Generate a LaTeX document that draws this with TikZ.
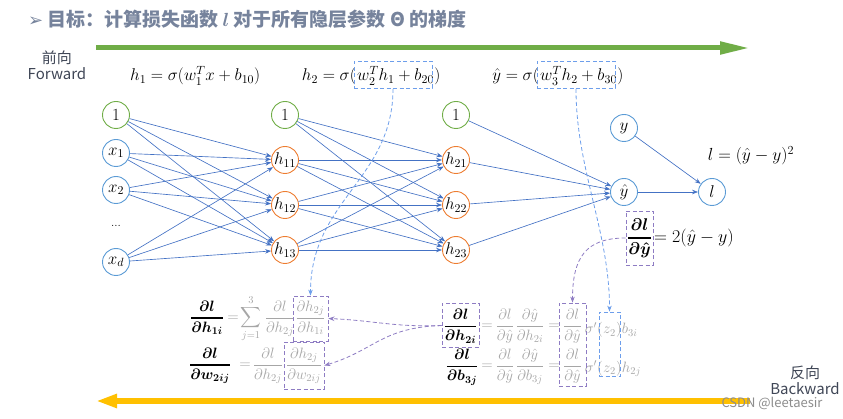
\RequirePackage{fix-cm}
\documentclass[tikz,border=0pt]{standalone}
\usepackage{amsmath}
\usepackage{fontspec}
\newfontfamily\cjk{Noto Sans CJK SC}
\newfontfamily\dejavu{DejaVu Sans}
\usetikzlibrary{arrows.meta}
\definecolor{ngreen}{HTML}{70AD47}
\definecolor{nblue}{HTML}{5B9BD5}
\definecolor{norange}{HTML}{ED7D31}
\definecolor{edgec}{HTML}{4472C4}
\definecolor{dblue}{HTML}{6D9EEB}
\definecolor{dpurp}{HTML}{8E7CC3}
\definecolor{gtxt}{HTML}{A6A6A6}
\definecolor{ttl}{HTML}{76839C}
\definecolor{lbl}{HTML}{3F4656}
\definecolor{ayellow}{HTML}{FFC000}
\definecolor{wm}{HTML}{8C8C8C}
\newcommand{\lhsfrac}[2]{\genfrac{}{}{1.2pt}{0}{\boldsymbol{#1}}{\boldsymbol{#2}}}
\begin{document}
\begin{tikzpicture}[x=1pt,y=-1pt,
  neuron/.style={circle, draw, line width=0.9pt, minimum size=27pt, inner sep=0pt, font=\fontsize{17}{19}\selectfont},
  bias/.style={neuron, draw=ngreen},
  inp/.style={neuron, draw=nblue},
  hid/.style={neuron, draw=norange},
  conn/.style={draw=edgec, line width=0.65pt, -{Stealth[length=6pt,width=4.5pt]}},
  bdash/.style={draw=dblue, line width=0.8pt, dash pattern=on 4pt off 2.5pt},
  pdash/.style={draw=dpurp, line width=0.8pt, dash pattern=on 4pt off 2.5pt},
  bbox/.style={rectangle, bdash, inner sep=0pt},
  pbox/.style={rectangle, pdash, inner sep=0pt},
  piece/.style={inner sep=0pt, anchor=base, font=\fontsize{15}{17}\selectfont},
  gp/.style={piece, text=gtxt},
  bp/.style={piece, text=black},
  topeq/.style={inner sep=0pt, anchor=base west, font=\fontsize{17}{19}\selectfont},
  lbltxt/.style={inner sep=0pt, align=center, text=lbl, font=\cjk\fontsize{15}{16}\selectfont},
  tip/.style={-{Stealth[length=6pt,width=4.5pt]}}
]
\useasboundingbox (0,0) rectangle (843,419);

% title
\node[anchor=west, inner sep=0pt, text=ttl, font=\fontsize{19}{21}\selectfont] (title) at (28,19)
  {{\dejavu\fontsize{18}{20}\selectfont ➢}\hspace{4pt}{\cjk\bfseries 目标：计算损失函数 $\boldsymbol{l}$ 对于所有隐层参数 Θ 的梯度}};

% big arrows
\coordinate (gs) at (96,48); \coordinate (ge) at (750,48);
\draw[draw=ngreen, line width=5pt, -{Triangle[length=30pt,width=12pt]}] (gs) -- (ge);
\coordinate (ys) at (750,401); \coordinate (ye) at (96,401);
\draw[draw=ayellow, line width=6pt, -{Triangle[length=21pt,width=13pt]}] (ys) -- (ye);

\node[lbltxt] (fwd) at (57,65) {前向\\Forward};
\node[lbltxt] (bwd) at (805,380) {反向\\Backward};
\node[inner sep=0pt, text=wm, font=\cjk\fontsize{13}{14}\selectfont] (wmk) at (772,403) {CSDN @leetaesir};

% top equations
\node[topeq] (E1) at (130,81) {$h_1=\sigma(w_1^T x+b_{10})$};
\node[topeq, anchor=base east] (E2a) at (356,81) {$h_2=\sigma($};
\node[topeq] (E2b) at (357,81) {$w_2^T h_1+b_{20}$};
\node[topeq] (E2c) at (E2b.base east) {$)$};
\node[topeq, anchor=base east] (E3a) at (539,81) {$\hat{y}=\sigma($};
\node[topeq] (E3b) at (540,81) {$w_3^T h_2+b_{30}$};
\node[topeq] (E3c) at (E3b.base east) {$)$};
\node[bbox, minimum width=78pt, minimum height=27pt] (eqbox2) at (393,75) {};
\node[bbox, minimum width=78pt, minimum height=27pt] (eqbox3) at (576,75) {};

% network nodes
\node[bias] (b0) at (116,115) {$1$};
\node[inp] (x1) at (116,153) {$x_1$};
\node[inp] (x2) at (116,190) {$x_2$};
\node[inner sep=0pt, font=\fontsize{12}{14}\selectfont] (dots) at (116,226) {...};
\node[inp] (xd) at (116,262) {$x_d$};
\node[bias] (b1) at (285,115) {$1$};
\node[hid] (h11) at (285,160) {$h_{11}$};
\node[hid] (h12) at (285,205) {$h_{12}$};
\node[hid] (h13) at (285,250) {$h_{13}$};
\node[bias] (b2) at (456,115) {$1$};
\node[hid] (h21) at (456,160) {$h_{21}$};
\node[hid] (h22) at (456,205) {$h_{22}$};
\node[hid] (h23) at (456,250) {$h_{23}$};
\node[inp] (yh) at (624,192) {$\hat{y}$};
\node[inp] (yy) at (624,128) {$y$};
\node[inp] (ll) at (712,192) {$l$};

\foreach \s in {b0,x1,x2,xd}
  \foreach \t in {h11,h12,h13}
    \draw[conn] (\s) -- (\t);
\foreach \s in {b1,h11,h12,h13}
  \foreach \t in {h21,h22,h23}
    \draw[conn] (\s) -- (\t);
\foreach \s in {b2,h21,h22,h23}
  \draw[conn] (\s) -- (yh);
\draw[conn] (yy) -- (ll);
\draw[conn] (yh) -- (ll);

\node[inner sep=0pt, anchor=base, font=\fontsize{17.5}{19}\selectfont] (leq) at (751,161) {$l=(\hat{y}-y)^2$};

% dl/dyhat
\node[inner sep=0pt, anchor=base, font=\fontsize{17}{19}\selectfont] (DY) at (639.5,242.25) {$\lhsfrac{\partial l}{\partial \hat{y}}$};
\node[inner sep=0pt, anchor=base west, font=\fontsize{18}{20}\selectfont] (DYr) at (654,243) {$=2(\hat{y}-y)$};
\node[pbox, minimum width=27pt, minimum height=54pt] (dbox) at (639.5,238) {};

% bottom left equations
\node[bp] (LA1) at (207,321.75) {$\lhsfrac{\partial l}{\partial h_{1i}}$};
\node[gp] (LA2) at (233,321.75) {$=$};
\node[gp] (LA3) at (251,321.75) {$\displaystyle\sum_{j=1}^{3}$};
\node[gp] (LA4) at (280,321.75) {$\dfrac{\partial l}{\partial h_{2j}}$};
\node[gp] (LA5) at (310.5,321.75) {$\dfrac{\partial h_{2j}}{\partial h_{1i}}$};
\node[bp] (LB1) at (210,368.75) {$\lhsfrac{\partial l}{\partial w_{2ij}}$};
\node[gp] (LB2) at (245,368.75) {$=$};
\node[gp] (LB3) at (268,368.75) {$\dfrac{\partial l}{\partial h_{2j}}$};
\node[gp] (LB4) at (304,368.75) {$\dfrac{\partial h_{2j}}{\partial w_{2ij}}$};
\node[pbox, minimum width=35pt, minimum height=45pt] (lbox1) at (310.5,318.5) {};
\node[pbox, minimum width=40pt, minimum height=47pt] (lbox2) at (304,365.5) {};

% bottom right equations
\node[bp] (RA1) at (460.5,330) {$\lhsfrac{\partial l}{\partial h_{2i}}$};
\node[gp] (RA2) at (487,330) {$=$};
\node[gp] (RA3) at (505,330) {$\dfrac{\partial l}{\partial \hat{y}}$};
\node[gp] (RA4) at (530,330) {$\dfrac{\partial \hat{y}}{\partial h_{2i}}$};
\node[gp] (RA5) at (554,330) {$=$};
\node[gp] (RA6) at (572.5,330) {$\dfrac{\partial l}{\partial \hat{y}}$};
\node[gp, anchor=base east] (RA7) at (603,334) {$\sigma'($};
\node[gp] (RA8) at (609.5,334) {$z_2$};
\node[gp, anchor=base west] (RA9) at (616,334) {$)b_{3i}$};
\node[bp] (RB1) at (462,370) {$\lhsfrac{\partial l}{\partial b_{3j}}$};
\node[gp] (RB2) at (487,370) {$=$};
\node[gp] (RB3) at (505,370) {$\dfrac{\partial l}{\partial \hat{y}}$};
\node[gp] (RB4) at (530,370) {$\dfrac{\partial \hat{y}}{\partial b_{3j}}$};
\node[gp] (RB5) at (554,370) {$=$};
\node[gp] (RB6) at (572.5,370) {$\dfrac{\partial l}{\partial \hat{y}}$};
\node[gp, anchor=base east] (RB7) at (603,372) {$\sigma'($};
\node[gp] (RB8) at (609.5,372) {$z_2$};
\node[gp, anchor=base west] (RB9) at (616,372) {$)h_{2j}$};
\node[pbox, minimum width=37pt, minimum height=44pt] (rbox1) at (460.5,325.5) {};
\node[pbox, minimum width=27pt, minimum height=83pt] (B3) at (572.5,344.5) {};
\node[bbox, minimum width=21pt, minimum height=64pt] (zbox) at (609.5,344) {};

% dashed connectors
\draw[bdash, tip] (eqbox2.south) .. controls +(0,90) and +(0,-95) .. (lbox1.north);
\draw[bdash, tip] (eqbox3.south) .. controls +(0,80) and +(0,-80) .. (zbox.north);
\draw[pdash, tip] (dbox.west) .. controls +(-40,0) and +(0,-45) .. (B3.north);
\draw[pdash, tip] (rbox1.west) .. controls +(-45,2) and +(45,2) .. (lbox1.east);
\draw[pdash, tip] (rbox1.west) .. controls +(-60,2) and +(50,-15) .. (lbox2.east);
\end{tikzpicture}
\end{document}
